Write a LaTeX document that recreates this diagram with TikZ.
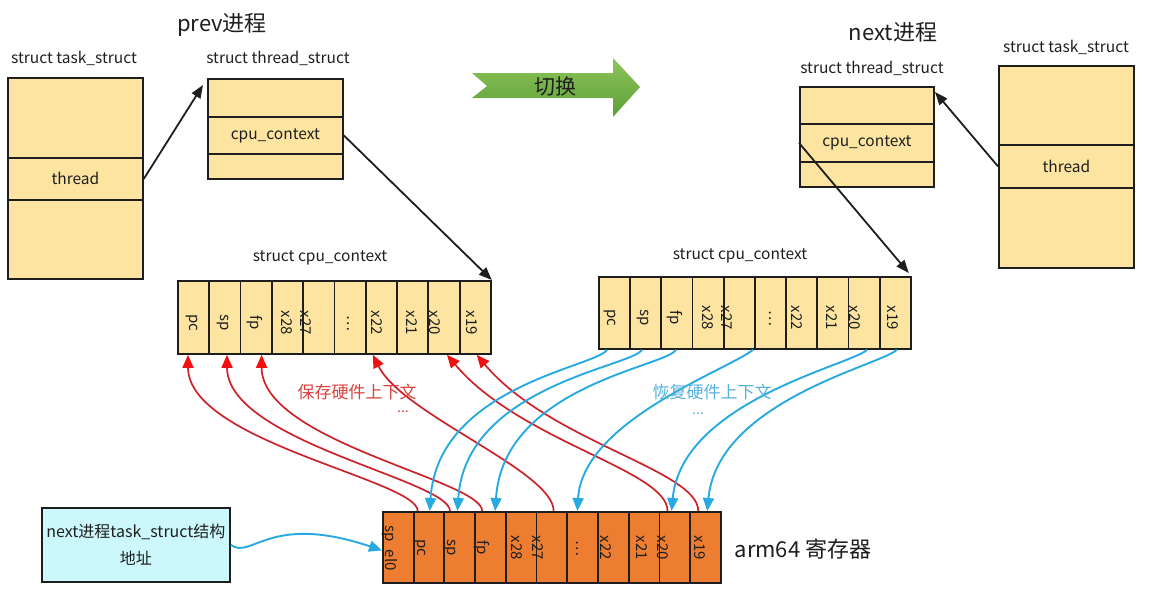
\documentclass[tikz,border=0pt]{standalone}
\usepackage{fontspec}
\setmainfont{Noto Sans CJK SC}
\usetikzlibrary{arrows.meta}
\definecolor{boxtan}{HTML}{FDE5A1}
\definecolor{regorange}{HTML}{ED7D31}
\definecolor{boxcyan}{HTML}{CCF8FC}
\definecolor{savered}{HTML}{CC2229}
\definecolor{savetip}{HTML}{F01010}
\definecolor{restblue}{HTML}{29A9E1}
\definecolor{restlabel}{HTML}{55B2DC}
\definecolor{savelabel}{HTML}{D9413F}
\definecolor{greenhi}{HTML}{8CC55A}
\definecolor{greenlo}{HTML}{5E9E38}
\definecolor{ink}{HTML}{1E1E1E}
\begin{document}
\begin{tikzpicture}[x=1pt,y=-1pt,
  box/.style={draw=ink, line width=1.8pt, fill=boxtan, inner sep=0pt, anchor=north west, text=ink, font=\fontsize{15.5}{15.5}\selectfont},
  regbox/.style={box, fill=regorange},
  celltext/.style={rotate=-90, inner sep=0pt, text=ink, font=\fontsize{15}{15}\selectfont},
  head/.style={inner sep=0pt, text=ink, font=\fontsize{15.5}{15.5}\selectfont},
  title/.style={inner sep=0pt, text=ink, font=\fontsize{22}{22}\selectfont},
  blackarrow/.style={draw=ink, line width=1.8pt, -{Triangle[length=13pt,width=10pt]}},
  savearrow/.style={draw=savered, line width=1.7pt, -{Triangle[length=13pt,width=11pt,color=savetip]}},
  restarrow/.style={draw=restblue, line width=1.9pt, -{Triangle[length=13pt,width=11pt]}},
]
\path[use as bounding box] (0,0) rectangle (1152,616);

% ---------- prev side ----------
\node[title] (prevt) at (222,25) {prev进程};
\node[head] (ltsh) at (74,58) {struct task\_struct};
\node[box, minimum width=135, minimum height=80] (lts1) at (7,77) {};
\node[box, minimum width=135, minimum height=42] (lts2) at (7,157) {thread};
\node[box, minimum width=135, minimum height=79] (lts3) at (7,199) {};

\node[head] (lthh) at (278,58) {struct thread\_struct};
\node[box, minimum width=135, minimum height=38] (lth1) at (207,78) {};
\node[box, minimum width=135, minimum height=37] (lth2) at (207,116) {cpu\_context};
\node[box, minimum width=135, minimum height=25] (lth3) at (207,153) {};

% ---------- next side ----------
\node[title] (nextt) at (893,32) {next进程};
\node[head] (rthh) at (872,68) {struct thread\_struct};
\node[box, minimum width=134, minimum height=37] (rth1) at (799,86) {};
\node[box, minimum width=134, minimum height=38] (rth2) at (799,123) {cpu\_context};
\node[box, minimum width=134, minimum height=25] (rth3) at (799,161) {};

\node[head] (rtsh) at (1066,47) {struct task\_struct};
\node[box, minimum width=135, minimum height=79] (rts1) at (998,65) {};
\node[box, minimum width=135, minimum height=43] (rts2) at (998,144) {thread};
\node[box, minimum width=135, minimum height=80] (rts3) at (998,187) {};

% ---------- switch arrow ----------
\shade[top color=greenhi, bottom color=greenlo]
  (472,73) -- (613,73) -- (613,58) -- (640,87) -- (613,117) -- (613,98) -- (472,98) -- (487,86) -- cycle;
\node[inner sep=0pt, text=ink, font=\fontsize{21}{21}\selectfont] (switcht) at (555,87) {切换};

% ---------- cpu_context arrays ----------
\node[head] (lcch) at (320,258) {struct cpu\_context};
\foreach \i in {0,...,9}
  \node[box, minimum width=31.3, minimum height=73] (la\i) at ({177+31.3*\i},280) {};
\foreach \t/\x [count=\k] in {pc/192, sp/223, fp/255, x28/287, x27/306, {\textellipsis}/348, x22/377, x21/412, x20/435, x19/472}
  \node[celltext] (lal\k) at (\x,323) {\t};

\node[head] (rcch) at (740,256) {struct cpu\_context};
\foreach \i in {0,...,9}
  \node[box, minimum width=31.2, minimum height=72] (ra\i) at ({598+31.2*\i},276) {};
\foreach \t/\x [count=\k] in {pc/610, sp/643, fp/675, x28/708, x27/727, {\textellipsis}/770, x22/797, x21/832, x20/855, x19/893}
  \node[celltext] (ral\k) at (\x,318) {\t};

% ---------- arm64 registers ----------
\foreach \i in {0,...,10}
  \node[regbox, minimum width=30.73, minimum height=71] (reg\i) at ({382+30.73*\i},511) {};
\foreach \t/\x [count=\k] in {sp\_el0/390, pc/420, sp/450, fp/482, x28/517, x27/538, {\textellipsis}/577, x22/606, x21/642, x20/663, x19/700}
  \node[celltext] (regl\k) at (\x,548) {\t};
\node[title] (armt) at (803,549) {arm64 寄存器};

% ---------- next task_struct address box ----------
\node[box, fill=boxcyan, minimum width=188, minimum height=74, align=center,
      font=\fontsize{16}{27}\selectfont] (addr) at (41,507) {next进程task\_struct结构\\地址};

% ---------- black pointer arrows ----------
\coordinate (lthtip) at (203,85);
\coordinate (rthtip) at (935,92);
\draw[blackarrow] (lts2.east) -- (lthtip);
\draw[blackarrow] (lth2.east) -- (la9.north east);
\draw[blackarrow] (rts2.west) -- (rthtip);
\draw[blackarrow] (rth2.west) -- ([xshift=-3pt,yshift=3pt]ra9.north east);

% ---------- save (red) ----------
\draw[savearrow] ([xshift=5pt]reg1.north west) .. controls +(0,-31) and +(0,87) .. ([xshift=11pt]la0.south west);
\draw[savearrow] ([xshift=6.5pt]reg2.north west) .. controls +(0,-31) and +(0,87) .. ([xshift=18.7pt]la1.south west);
\draw[savearrow] ([xshift=8pt]reg3.north west) .. controls +(0,-31) and +(0,87) .. ([xshift=22pt]la2.south west);
\draw[savearrow] ([xshift=18pt]reg5.north west) .. controls +(0,-40) and +(30,60) .. ([xshift=8pt]la6.south west);
\draw[savearrow] ([xshift=9pt]reg9.north west) .. controls +(0,-41) and +(73,87) .. ([xshift=19.6pt]la8.south west);
\draw[savearrow] ([xshift=9pt]reg10.north west) .. controls +(0,-41) and +(73,87) .. ([xshift=18pt]la9.south west);

% ---------- restore (blue) ----------
\draw[restarrow] ([xshift=9pt]ra0.south west) .. controls +(-10,17) and +(8,-125) .. ([xshift=17pt]reg1.north west);
\draw[restarrow] ([xshift=12.8pt]ra1.south west) .. controls +(-10,17) and +(8,-125) .. ([xshift=14pt]reg2.north west);
\draw[restarrow] ([xshift=15.6pt]ra2.south west) .. controls +(-10,17) and +(8,-125) .. ([xshift=21pt]reg3.north west);
\draw[restarrow] ([xshift=-1pt]ra5.south west) .. controls +(-25,20) and +(5,-90) .. ([xshift=11pt]reg6.north west);
\draw[restarrow] ([xshift=19.4pt]ra8.south west) .. controls +(-15,15) and +(10,-110) .. ([xshift=13pt]reg9.north west);
\draw[restarrow] ([xshift=18pt]ra9.south west) .. controls +(-15,15) and +(10,-110) .. ([xshift=18pt]reg10.north west);

% address -> sp_el0
\draw[restarrow] (addr.east) .. controls +(21,15) and +(-113,-38) .. ([yshift=-3pt]reg0.west);

% ---------- labels ----------
\node[inner sep=0pt, text=savelabel, font=\fontsize{17}{17}\selectfont] (savet) at (357,392) {保存硬件上下文};
\node[inner sep=0pt, text=savelabel, font=\fontsize{14}{14}\selectfont] (savedots) at (403,412) {...};
\node[inner sep=0pt, text=restlabel, font=\fontsize{17}{17}\selectfont] (restt) at (712,392) {恢复硬件上下文};
\node[inner sep=0pt, text=restlabel, font=\fontsize{14}{14}\selectfont] (restdots) at (698,414) {...};
\end{tikzpicture}
\end{document}
